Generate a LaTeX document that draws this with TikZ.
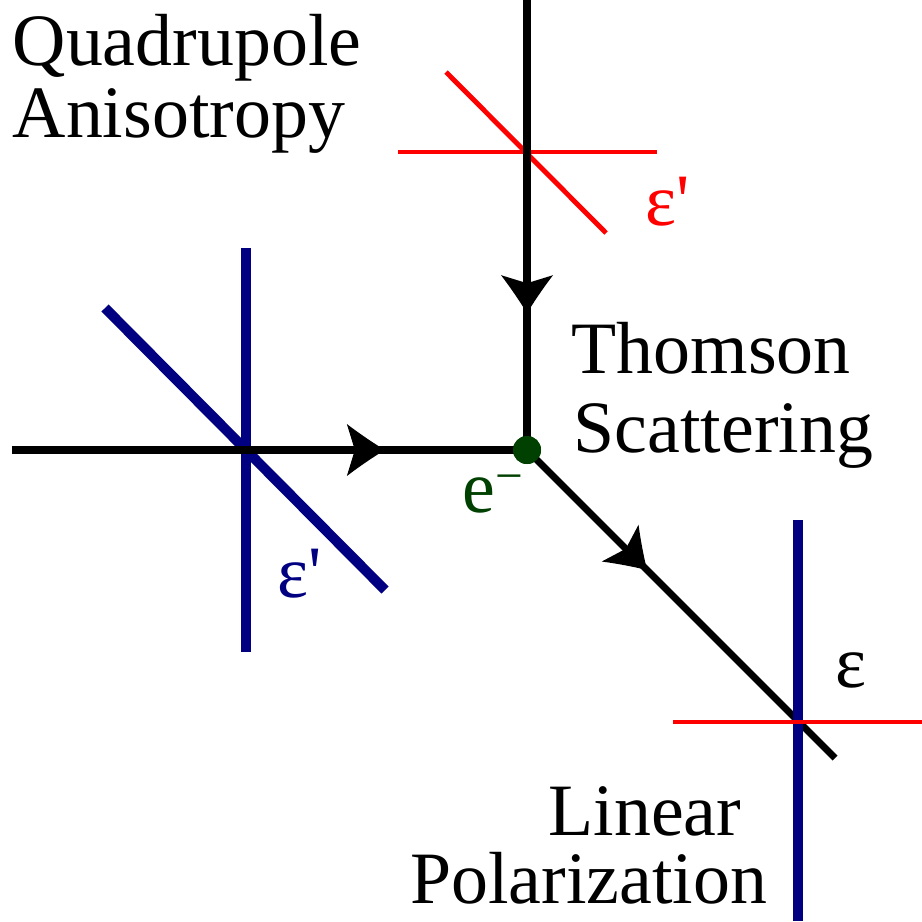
\documentclass[tikz,border=0pt]{standalone}
\usepackage{fontspec}
\setmainfont{Liberation Serif}
\newfontfamily\epsfont{Liberation Serif}
\usetikzlibrary{decorations.markings}
\definecolor{navy}{RGB}{0,0,128}
\definecolor{dkgreen}{RGB}{0,64,0}
\tikzset{
  midarrow/.style={postaction={decorate,decoration={markings,
    mark=at position #1 with {\fill[black] (0,0) .. controls (-0.10cm,0.06cm) and (-0.25cm,0.16cm) .. (-0.38cm,0.26cm)
      -- (-0.30cm,0) -- (-0.38cm,-0.26cm) .. controls (-0.25cm,-0.16cm) and (-0.10cm,-0.06cm) .. (0,0) -- cycle;}}}},
  photon/.style={line width=2pt,black},
  bluepol/.style={line width=2.85pt,navy},
  redpol/.style={line width=1.4pt,red},
  dotstyle/.style={circle,fill=dkgreen,minimum size=0.28cm,inner sep=0pt},
  lab/.style={anchor=base west,inner sep=0pt,font=\fontsize{21}{21}\selectfont},
  labr/.style={anchor=base east,inner sep=0pt,font=\fontsize{21}{21}\selectfont},
  eps/.style={anchor=base west,inner sep=0pt,font=\epsfont\fontsize{21}{21}\selectfont},
}
\begin{document}
\begin{tikzpicture}[x=0.01cm,y=-0.01cm]
\useasboundingbox (0,0) rectangle (922,921);
% coordinates
\coordinate (top) at (527,0);
\coordinate (left) at (12,450);
\coordinate (out) at (835,758);
\node[dotstyle] (e) at (527,450) {};
% red top polarization cross
\coordinate (rt1) at (398,152); \coordinate (rt2) at (657,152);
\coordinate (rt3) at (446,72);  \coordinate (rt4) at (606,233);
\draw[redpol] (rt1) -- (rt2);
\draw[redpol] (rt3) -- (rt4);
% blue left cross
\coordinate (bl1) at (246,248); \coordinate (bl2) at (246,652);
\coordinate (bl3) at (105,308); \coordinate (bl4) at (385,590);
\draw[bluepol] (bl1) -- (bl2);
\draw[bluepol] (bl3) -- (bl4);
% photon lines
\draw[photon,midarrow=0.696] (top) -- (e.center);
\draw[photon,midarrow=0.724] (left) -- (e.center);
\draw[photon,midarrow=0.39] (e.center) -- (out);
\node[dotstyle] at (e) {};
% bottom-right cross
\coordinate (br1) at (798,520); \coordinate (br2) at (798,921);
\coordinate (br3) at (673,722); \coordinate (br4) at (922,722);
\draw[bluepol] (br1) -- (br2);
\draw[redpol] (br3) -- (br4);
% labels
\node[lab] (q1) at (12,65) {Quadrupole};
\node[lab] (q2) at (12,137) {Anisotropy};
\node[lab] (t1) at (571,373) {Thomson};
\node[lab] (t2) at (573,452) {Scattering};
\node[labr] (l1) at (742,835) {Linear};
\node[labr] (l2) at (768,903) {Polarization};
\node[eps,text=dkgreen] (el) at (462,512) {e\raisebox{5.5pt}{\fontsize{14}{14}\selectfont\char"2212}};
\node[eps,text=red] (epsr) at (645,225) {ε'};
\node[eps,text=navy] (epsb) at (277,597) {ε'};
\node[eps] (epsk) at (835,687) {ε};
\end{tikzpicture}
\end{document}
